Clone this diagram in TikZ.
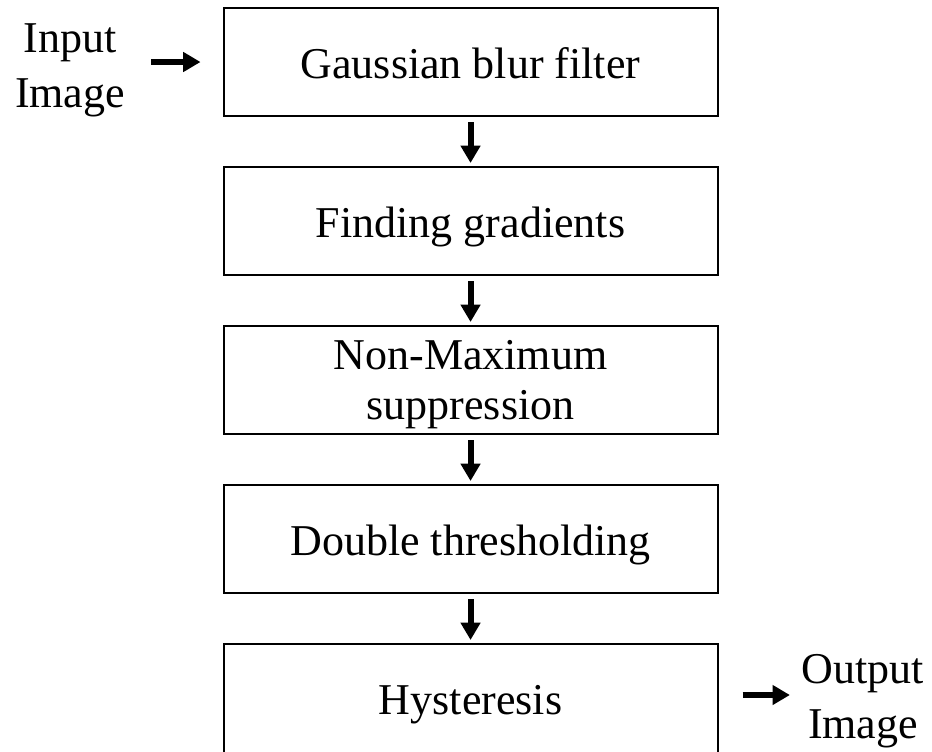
\documentclass[tikz,border=0pt]{standalone}
\usepackage{fontspec}
\setmainfont{Liberation Serif}
\usetikzlibrary{positioning, arrows.meta}

\begin{document}
\begin{tikzpicture}[>={Triangle[length=13pt, width=14.25pt]},
    node distance=36.75pt,
    khoi/.style={draw, line width=1.5pt, minimum width=370.5pt, minimum height=81pt,
        inner sep=0pt, align=center, font=\fontsize{33}{37}\selectfont},
    motdong/.style={khoi, text height=32pt, text depth=7.2pt},
    nhan/.style={inner sep=0pt, align=center, font=\fontsize{33}{41}\selectfont},
    muiten/.style={->, line width=4.5pt}]
    \useasboundingbox (0,0) rectangle (699pt,-563.25pt);

    % Các bước xử lý
    \node[motdong] (gauss) at (352.9pt,-46.5pt) {Gaussian blur filter};
    \node[motdong, below=of gauss] (grad) {Finding gradients};
    \node[khoi, below=of grad, text depth=0pt] (nms) {Non-Maximum\\suppression};
    \node[motdong, below=of nms] (nguong) {Double thresholding};
    \node[motdong, below=of nguong, minimum height=88pt, text height=25pt] (hyst) {Hysteresis};

    % Đầu vào, đầu ra
    \node[nhan] (vao) at (52.5pt,-52.7pt) {Input\\Image};
    \node[nhan] (ra) at (647.25pt,-526pt) {Output\\Image};

    % Mũi tên
    \foreach \a/\b in {gauss/grad, grad/nms, nms/nguong, nguong/hyst}
        \draw[muiten, shorten <=3.75pt, shorten >=2.25pt] (\a) -- (\b);
    \draw[muiten, shorten <=19.5pt, shorten >=16.5pt] (vao.east |- gauss.west) -- (gauss.west);
    \coordinate (raden) at ([yshift=5.75pt]hyst.east);
    \draw[muiten, shorten <=18pt, shorten >=8.8pt] (raden) -- (ra.west |- raden);
\end{tikzpicture}
\end{document}
